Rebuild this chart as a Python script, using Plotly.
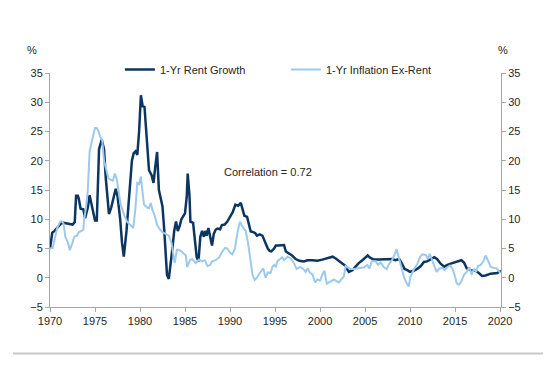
import plotly.graph_objects as go

# ---- data ----
rent_years = [1970.0,1970.25,1970.5,1970.75,1971.0,1971.25,1971.5,1972.0,1972.5,1972.75,1972.9,1973.1,1973.2,1973.4,1973.7,1973.9,
    1974.2,1974.4,1974.7,1975.0,1975.2,1975.45,1975.75,1976.0,1976.2,1976.4,1976.55,1976.8,1977.1,1977.3,1977.5,1977.8,1978.0,1978.2,
    1978.5,1978.8,1979.1,1979.3,1979.5,1979.7,1979.9,1980.1,1980.3,1980.5,1980.75,1981.0,1981.3,1981.5,1981.7,1981.9,1982.1,1982.3,
    1982.5,1982.7,1982.9,1983.0,1983.2,1983.4,1983.6,1983.8,1984.0,1984.2,1984.4,1984.6,1984.8,1985.0,1985.2,1985.3,1985.5,1985.6,
    1985.9,1986.1,1986.3,1986.5,1986.7,1986.9,1987.1,1987.25,1987.4,1987.6,1987.8,1988.0,1988.2,1988.4,1988.6,1988.9,1989.1,1989.4,
    1989.7,1990.0,1990.3,1990.6,1990.9,1991.2,1991.4,1991.6,1991.9,1992.1,1992.3,1992.6,1992.8,1993.0,1993.3,1993.6,1993.8,1994.0,
    1994.2,1994.4,1994.6,1994.9,1995.1,1995.4,1996.0,1996.2,1996.55,1996.9,1997.3,1997.7,1998.2,1998.6,1999.15,1999.7,2000.25,2000.8,
    2001.4,2001.75,2002.1,2002.5,2002.85,2003.0,2003.2,2003.6,2003.95,2004.3,2004.7,2005.1,2005.3,2005.6,2006.0,2006.55,2007.1,2007.7,
    2008.0,2008.4,2008.8,2009.1,2009.4,2009.7,2010.0,2010.4,2010.8,2011.2,2011.55,2011.9,2012.3,2012.7,2013.0,2013.4,2013.8,2014.15,
    2014.7,2015.25,2015.7,2016.0,2016.3,2016.75,2017.3,2017.65,2018.0,2018.4,2018.95,2019.7,2020.1]
rent_growth = [5.0,7.7,8.0,8.5,9.0,9.3,9.4,9.2,9.1,9.5,14.0,14.0,13.5,11.8,11.7,10.2,
    12.0,14.1,12.0,9.8,9.8,22.0,23.6,22.0,17.0,12.5,10.9,12.0,14.0,15.2,14.0,10.0,6.0,3.6,
    8.0,14.0,20.0,21.3,21.6,21.0,25.0,31.2,29.3,29.2,24.0,18.4,17.5,16.2,19.0,21.5,15.0,13.5,
    12.2,8.0,4.0,0.5,-0.2,2.0,5.0,8.0,9.6,8.0,8.8,10.0,10.5,11.0,14.0,17.8,14.0,9.6,
    9.4,6.0,3.5,2.8,7.0,8.0,7.0,8.0,7.2,8.5,7.0,5.5,7.5,8.2,8.4,8.3,9.0,9.1,
    9.6,10.3,11.2,12.5,12.3,12.8,11.5,10.6,10.4,9.0,7.9,7.8,7.6,7.2,7.4,7.2,6.5,5.5,
    5.0,4.6,4.5,5.0,5.5,5.5,5.6,4.5,4.2,3.8,3.2,2.9,2.8,3.0,3.0,2.9,3.1,3.3,
    3.6,3.3,2.9,2.4,2.0,1.5,1.0,1.3,2.0,2.5,3.0,3.6,3.8,3.4,3.1,3.1,3.1,3.1,
    3.2,3.0,3.2,2.4,1.5,1.3,1.0,1.2,1.5,2.0,2.7,2.8,3.2,3.5,3.2,2.4,1.9,2.2,
    2.5,2.8,3.0,2.6,1.6,1.3,1.2,0.8,0.3,0.4,0.7,0.8,1.2]

infl_years = [1970.0,1970.3,1970.5,1970.8,1971.1,1971.25,1971.5,1971.7,1972.0,1972.2,1972.5,1972.7,1973.0,1973.2,1973.5,1973.7,
    1973.8,1974.0,1974.2,1974.4,1974.6,1975.0,1975.2,1975.4,1975.6,1975.8,1976.0,1976.3,1976.5,1976.8,1977.0,1977.2,1977.4,1977.6,
    1977.85,1978.3,1978.6,1978.95,1979.25,1979.5,1979.7,1979.9,1980.1,1980.25,1980.45,1980.8,1981.0,1981.2,1981.4,1981.6,1981.9,
    1982.2,1982.5,1982.85,1983.2,1983.5,1983.7,1983.85,1984.1,1984.3,1984.6,1984.9,1985.1,1985.25,1985.55,1985.8,1986.0,1986.2,
    1986.55,1986.9,1987.2,1987.5,1987.8,1988.0,1988.4,1988.8,1989.15,1989.45,1989.7,1990.0,1990.25,1990.55,1990.8,1991.1,1991.35,
    1991.75,1992.0,1992.2,1992.5,1992.75,1993.0,1993.3,1993.7,1993.95,1994.2,1994.5,1994.7,1994.9,1995.1,1995.25,1995.55,1995.8,
    1996.0,1996.4,1996.75,1997.1,1997.4,1997.8,1998.15,1998.4,1998.65,1998.9,1999.15,1999.45,1999.7,2000.0,2000.25,2000.5,2000.75,
    2001.0,2001.25,2001.55,2001.85,2002.1,2002.35,2002.65,2002.85,2003.1,2003.4,2003.8,2004.15,2004.5,2004.9,2005.25,2005.5,2005.75,
    2006.2,2006.45,2006.75,2007.1,2007.4,2007.65,2008.0,2008.3,2008.5,2008.8,2009.1,2009.35,2009.65,2009.85,2010.05,2010.45,2010.8,
    2011.1,2011.35,2011.75,2012.0,2012.2,2012.5,2012.75,2012.95,2013.2,2013.6,2013.85,2014.15,2014.45,2014.7,2014.95,2015.2,2015.45,
    2015.7,2016.0,2016.3,2016.6,2016.85,2017.1,2017.35,2017.55,2017.85,2018.15,2018.4,2018.65,2018.95,2019.25,2019.6,2019.85,2020.05]
infl_ex_rent = [5.0,5.1,6.5,8.5,9.5,9.7,9.3,7.0,6.0,4.7,6.0,7.0,7.2,7.8,8.0,8.2,
    10.0,12.0,15.0,21.5,23.0,25.6,25.6,25.0,24.0,23.5,20.0,18.0,17.0,16.7,16.6,17.8,17.0,15.0,
    12.5,10.5,9.5,9.0,8.5,12.0,16.2,16.0,17.3,15.0,12.5,12.0,11.9,12.8,11.5,10.8,9.0,
    8.3,7.8,7.5,7.2,6.0,4.0,2.5,4.8,4.8,4.5,4.0,3.8,1.8,3.0,3.2,2.8,2.5,
    3.1,2.8,3.0,2.0,2.2,2.8,3.0,3.5,4.5,5.1,5.0,4.3,4.0,5.0,7.5,9.6,8.8,
    8.0,6.0,3.5,0.5,-0.4,0.0,0.8,1.6,0.0,0.9,0.8,1.8,2.2,1.8,2.8,3.1,3.5,
    3.0,3.6,3.3,2.5,1.5,1.8,1.5,1.0,1.6,0.8,0.6,-0.8,-0.3,-0.5,0.5,1.2,-1.0,
    -0.8,-0.5,-0.3,-0.6,-0.8,-0.3,0.2,2.0,1.8,1.5,1.5,1.6,1.8,1.8,2.2,1.6,2.8,
    2.8,2.2,2.6,1.8,1.5,2.3,3.0,4.0,4.9,3.2,1.5,0.0,-1.0,-1.5,0.2,1.5,2.3,
    3.5,4.0,3.9,3.2,4.1,2.8,1.9,1.0,1.5,1.7,1.3,1.8,2.1,1.6,0.5,-1.0,-1.2,
    -0.6,0.5,1.0,1.8,0.5,1.5,1.0,2.0,2.2,2.8,3.8,3.0,1.9,1.7,1.6,1.2,0.8]

x_ticks = [1970, 1975, 1980, 1985, 1990, 1995, 2000, 2005, 2010, 2015, 2020]
y_ticks = [-5, 0, 5, 10, 15, 20, 25, 30, 35]
correlation_text = "Correlation = 0.72"

DARK = "#0c3560"
LIGHT = "#9ccaee"
AXIS = "#a6a6a6"
TEXT = "#262626"
FONT = "Liberation Sans, Arial, sans-serif"

fig = go.Figure()
fig.add_trace(go.Scatter(x=rent_years, y=rent_growth, mode="lines", name="1-Yr Rent Growth",
                         line=dict(color=DARK, width=2.5)))
fig.add_trace(go.Scatter(x=infl_years, y=infl_ex_rent, mode="lines", name="1-Yr Inflation Ex-Rent",
                         line=dict(color=LIGHT, width=2), yaxis="y2"))

yax = dict(range=[-5, 35], tickvals=y_ticks, showgrid=False, zeroline=False, showline=True,
           linecolor=AXIS, linewidth=1, ticks="outside", ticklen=4, tickcolor=AXIS,
           tickfont=dict(size=11, color=TEXT, family=FONT))

fig.update_layout(
    width=558, height=365,
    margin=dict(l=42, r=65, t=65, b=66, autoexpand=False),
    plot_bgcolor="white", paper_bgcolor="white",
    font=dict(family=FONT, size=11, color=TEXT),
    xaxis=dict(range=[1970, 2020.11], tickvals=x_ticks, showgrid=False, zeroline=False,
               showline=True, linecolor=AXIS, linewidth=1, ticks="outside", ticklen=4,
               tickcolor=AXIS, tickfont=dict(size=11, color=TEXT, family=FONT)),
    yaxis=dict(**yax, side="left"),
    yaxis2=dict(**yax, side="right", overlaying="y", anchor="x"),
    showlegend=True,
    legend=dict(orientation="h", x=0.155, xanchor="left", y=1.015, yanchor="middle",
                bgcolor="rgba(0,0,0,0)", font=dict(size=11, color=TEXT, family=FONT),
                itemwidth=30, tracegroupgap=0, entrywidth=121, entrywidthmode="pixels"),
)

fig.add_annotation(text="%", xref="paper", yref="paper", x=-0.04, y=1.097, showarrow=False,
                   xanchor="center", yanchor="middle", font=dict(size=11, color=TEXT))
fig.add_annotation(text="%", xref="paper", yref="paper", x=1.005, y=1.097, showarrow=False,
                   xanchor="center", yanchor="middle", font=dict(size=11, color=TEXT))
fig.add_annotation(text=correlation_text, xref="x", yref="y", x=1994.2, y=18.0, showarrow=False,
                   xanchor="center", yanchor="middle", font=dict(size=11, color=TEXT))
fig.add_shape(type="line", xref="paper", yref="paper", x0=-0.082, x1=1.093, y0=-0.199, y1=-0.199,
              line=dict(color="#c8c8c8", width=2))

fig.write_html("out.html")
